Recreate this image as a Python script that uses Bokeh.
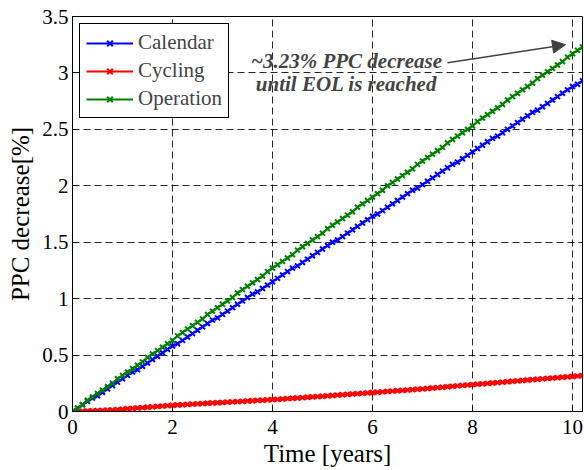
from bokeh.plotting import figure
from bokeh.models import Range1d, Label, Arrow, NormalHead, Legend, LegendItem
from bokeh.embed import file_html
from bokeh.resources import INLINE

years = [0.0, 0.1, 0.2, 0.3, 0.4, 0.5, 0.6, 0.7, 0.8, 0.9,
         1.0, 1.1, 1.2, 1.3, 1.4, 1.5, 1.6, 1.7, 1.8, 1.9,
         2.0, 2.1, 2.2, 2.3, 2.4, 2.5, 2.6, 2.7, 2.8, 2.9,
         3.0, 3.1, 3.2, 3.3, 3.4, 3.5, 3.6, 3.7, 3.8, 3.9,
         4.0, 4.1, 4.2, 4.3, 4.4, 4.5, 4.6, 4.7, 4.8, 4.9,
         5.0, 5.1, 5.2, 5.3, 5.4, 5.5, 5.6, 5.7, 5.8, 5.9,
         6.0, 6.1, 6.2, 6.3, 6.4, 6.5, 6.6, 6.7, 6.8, 6.9,
         7.0, 7.1, 7.2, 7.3, 7.4, 7.5, 7.6, 7.7, 7.8, 7.9,
         8.0, 8.1, 8.2, 8.3, 8.4, 8.5, 8.6, 8.7, 8.8, 8.9,
         9.0, 9.1, 9.2, 9.3, 9.4, 9.5, 9.6, 9.7, 9.8, 9.9,
         10.0, 10.1, 10.2]

calendar = [0.00, 0.03, 0.06, 0.09, 0.12, 0.14, 0.17, 0.20, 0.23, 0.26,
            0.29, 0.32, 0.35, 0.37, 0.40, 0.43, 0.46, 0.49, 0.52, 0.55,
            0.58, 0.60, 0.63, 0.66, 0.69, 0.72, 0.75, 0.78, 0.81, 0.83,
            0.86, 0.89, 0.92, 0.95, 0.98, 1.01, 1.04, 1.06, 1.09, 1.12,
            1.15, 1.18, 1.21, 1.24, 1.27, 1.29, 1.32, 1.35, 1.38, 1.41,
            1.44, 1.47, 1.50, 1.52, 1.55, 1.58, 1.61, 1.64, 1.67, 1.70,
            1.73, 1.75, 1.78, 1.81, 1.84, 1.87, 1.90, 1.93, 1.96, 1.98,
            2.01, 2.04, 2.07, 2.10, 2.13, 2.16, 2.19, 2.21, 2.24, 2.27,
            2.30, 2.33, 2.36, 2.39, 2.42, 2.44, 2.47, 2.50, 2.53, 2.56,
            2.59, 2.62, 2.65, 2.67, 2.70, 2.73, 2.76, 2.79, 2.82, 2.85,
            2.88, 2.90, 2.93]

cycling = [0.000, 0.001, 0.003, 0.004, 0.006, 0.008, 0.010, 0.012, 0.014, 0.017,
           0.020, 0.024, 0.027, 0.031, 0.034, 0.038, 0.041, 0.045, 0.048, 0.052,
           0.055, 0.058, 0.060, 0.063, 0.065, 0.068, 0.070, 0.073, 0.075, 0.078,
           0.080, 0.083, 0.085, 0.088, 0.090, 0.093, 0.095, 0.098, 0.100, 0.103,
           0.105, 0.108, 0.111, 0.114, 0.117, 0.120, 0.123, 0.126, 0.129, 0.132,
           0.135, 0.138, 0.142, 0.145, 0.148, 0.152, 0.155, 0.158, 0.161, 0.165,
           0.168, 0.171, 0.174, 0.178, 0.181, 0.184, 0.187, 0.190, 0.194, 0.197,
           0.200, 0.204, 0.208, 0.212, 0.215, 0.219, 0.223, 0.227, 0.231, 0.234,
           0.238, 0.242, 0.245, 0.249, 0.253, 0.256, 0.260, 0.264, 0.268, 0.271,
           0.275, 0.279, 0.282, 0.286, 0.289, 0.293, 0.296, 0.300, 0.303, 0.307,
           0.310, 0.314, 0.318]

operation = [0.00, 0.03, 0.06, 0.10, 0.13, 0.16, 0.19, 0.22, 0.25, 0.29,
             0.32, 0.35, 0.38, 0.41, 0.44, 0.48, 0.51, 0.54, 0.57, 0.60,
             0.63, 0.67, 0.70, 0.73, 0.76, 0.79, 0.82, 0.86, 0.89, 0.92,
             0.95, 0.98, 1.01, 1.05, 1.08, 1.11, 1.14, 1.17, 1.20, 1.24,
             1.27, 1.30, 1.33, 1.36, 1.39, 1.43, 1.46, 1.49, 1.52, 1.55,
             1.58, 1.62, 1.65, 1.68, 1.71, 1.74, 1.77, 1.81, 1.84, 1.87,
             1.90, 1.93, 1.96, 2.00, 2.03, 2.06, 2.09, 2.12, 2.15, 2.19,
             2.22, 2.25, 2.28, 2.31, 2.34, 2.38, 2.41, 2.44, 2.47, 2.50,
             2.53, 2.57, 2.60, 2.63, 2.66, 2.69, 2.72, 2.76, 2.79, 2.82,
             2.85, 2.88, 2.91, 2.95, 2.98, 3.01, 3.04, 3.07, 3.10, 3.14,
             3.17, 3.20, 3.23]

series_names = ["Calendar", "Cycling", "Operation"]
series_colors = ["#0000ff", "#ff0000", "#008000"]

x_ticks = [0, 2, 4, 6, 8, 10]
y_ticks = [0, 0.5, 1, 1.5, 2, 2.5, 3, 3.5]
y_tick_labels = ["0", "0.5", "1", "1.5", "2", "2.5", "3", "3.5"]

annotation_lines = ["~3.23% PPC decrease", "until EOL is reached"]

FONT = "Liberation Serif"

p = figure(width=584, height=470, output_backend="svg", toolbar_location=None,
           x_range=Range1d(0, 10.2), y_range=Range1d(0, 3.5),
           min_border_left=72, min_border_right=2, min_border_top=16,
           min_border_bottom=59)
p.outline_line_color = "black"
p.outline_line_width = 1
p.outline_line_alpha = 1
p.background_fill_color = "white"
p.border_fill_color = "white"

for ax in (p.xaxis[0], p.yaxis[0]):
    ax.major_label_text_font = FONT
    ax.major_label_text_font_size = "21px"
    ax.axis_label_text_font = FONT
    ax.axis_label_text_font_size = "25px"
    ax.axis_label_text_font_style = "normal"
    ax.major_tick_in = 5
    ax.major_tick_out = 0
    ax.minor_tick_line_color = None
    ax.axis_line_color = "black"
    ax.major_tick_line_color = "black"
    ax.major_label_text_color = "black"
    ax.axis_label_text_color = "black"

p.xaxis.ticker = x_ticks
p.yaxis.ticker = y_ticks
p.yaxis.major_label_overrides = {t: l for t, l in zip(y_ticks, y_tick_labels)}
p.xaxis.axis_label = "Time [years]"
p.yaxis.axis_label = "PPC decrease[%]"
p.xaxis.major_label_standoff = 8
p.xaxis.axis_label_standoff = 3
p.yaxis.major_label_standoff = 4
p.yaxis.axis_label_standoff = 5

for g in (p.xgrid[0], p.ygrid[0]):
    g.grid_line_color = "black"
    g.grid_line_alpha = 0.85
    g.grid_line_dash = "7 4"
    g.grid_line_width = 1

items = []
for name, color, vals in zip(series_names, series_colors, [calendar, cycling, operation]):
    r1 = p.line(years, vals, line_color=color, line_width=2)
    r2 = p.scatter(years, vals, marker="x", size=7, line_color=color, line_width=2)
    items.append(LegendItem(label=name, renderers=[r1, r2]))

legend = Legend(items=items, location="top_left")
legend.label_text_font = FONT
legend.label_text_font_size = "21px"
legend.glyph_width = 47
legend.glyph_height = 20
legend.label_height = 20
legend.spacing = 3
legend.padding = 6
legend.margin = 7
legend.label_standoff = 5
legend.border_line_color = "black"
legend.border_line_width = 1
legend.border_line_alpha = 1
legend.background_fill_alpha = 1
p.add_layout(legend)

p.add_layout(Label(x=5.48, y=3.11, text=annotation_lines[0], text_font=FONT,
                   text_font_size="21px", text_font_style="bold italic",
                   text_align="center", text_baseline="middle"))
p.add_layout(Label(x=5.48, y=2.905, text=annotation_lines[1], text_font=FONT,
                   text_font_size="21px", text_font_style="bold italic",
                   text_align="center", text_baseline="middle"))
p.add_layout(Arrow(x_start=7.5, y_start=3.09, x_end=9.86, y_end=3.25,
                   line_color="#404040", line_width=1.5,
                   end=NormalHead(size=13, fill_color="#404040", line_color="#404040")))

open("out.html", "w").write(file_html(p, INLINE))
